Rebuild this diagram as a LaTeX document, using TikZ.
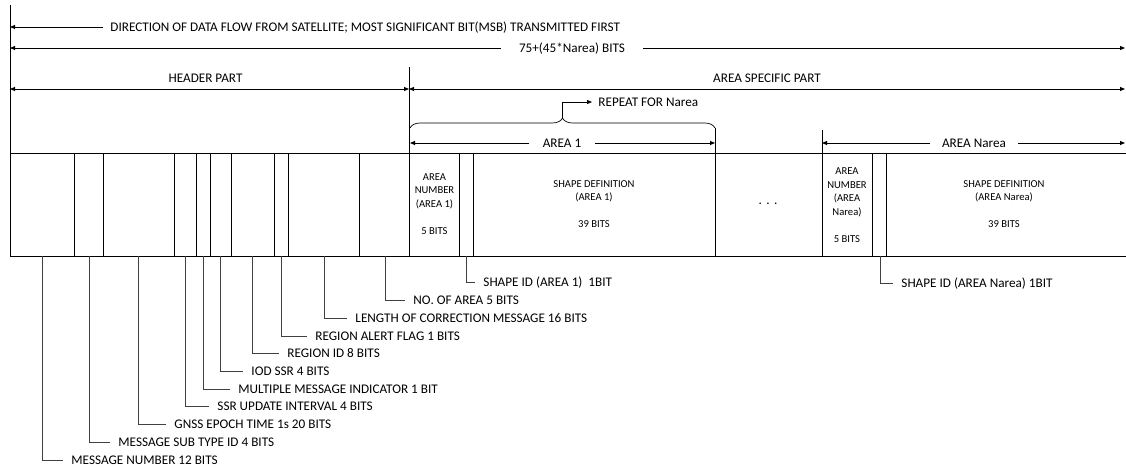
\documentclass[tikz,border=0pt]{standalone}
\usepackage{fontspec}
\setmainfont{Carlito}
\usetikzlibrary{arrows.meta,decorations.pathreplacing}

\begin{document}
\begin{tikzpicture}[x=1pt,y=-1pt,line width=0.9pt,>={Triangle[length=5pt,width=4pt]},
    lbl/.style={font=\fontsize{13.2}{15}\selectfont,text height=8.4pt,text depth=0pt,inner ysep=1pt},
    gaplbl/.style={lbl,inner xsep=#1},
    fld/.style={font=\fontsize{10.6}{13.5}\selectfont,align=center,inner sep=0pt},
    lead/.style={draw=black!75,line width=0.9pt},
    leadlbl/.style={lbl,anchor=west,inner xsep=8pt}]
      \useasboundingbox (0,0) rectangle (1126,468);

      % top arrows
      \coordinate (TOPL) at (10,5);
      \coordinate (DIRL) at (10,27);
      \node[gaplbl=7pt,anchor=west] (DIR) at (103,27) {DIRECTION OF DATA FLOW FROM SATELLITE; MOST SIGNIFICANT BIT(MSB) TRANSMITTED FIRST};
      \draw[->] (DIR.west) to (DIRL);

      \coordinate (TOTL) at (10,48);
      \coordinate (TOTR) at (1125,48);
      \node[gaplbl=18pt] (TOT) at (572,48) {75+(45*Narea) BITS};
      \draw[->] (TOT.west) to (TOTL);
      \draw[->] (TOT.east) to (TOTR);

      \coordinate (HDL) at (10,89);
      \coordinate (HDR) at (409,89);
      \coordinate (ASR) at (1125,89);
      \draw[<->] (HDL) to node[lbl,pos=0.49,above=5pt]{HEADER PART}(HDR);
      \draw[<->] (HDR) to node[lbl,above=5pt]{AREA SPECIFIC PART}(ASR);

      % repeat brace
      \coordinate (BRL) at (410,128);
      \coordinate (BRR) at (715,128);
      \coordinate (BRT) at (562,118);
      \draw[line width=0.7pt,decorate,decoration={brace,amplitude=10pt}] (BRL) to (BRR);
      \node[gaplbl=6pt,anchor=west] (RPT) at (592,102) {REPEAT FOR Narea};
      \draw[->,line width=0.7pt] (BRT) |- (RPT.west);

      % area arrows
      \coordinate (A1L) at (410,143);
      \coordinate (A1R) at (715,143);
      \node[gaplbl=13pt] (A1) at (562,143) {AREA 1};
      \draw[->] (A1.west) to (A1L);
      \draw[->] (A1.east) to (A1R);

      \coordinate (ANL) at (822,143);
      \coordinate (ANR) at (1125,143);
      \node[gaplbl=12pt] (AN) at (974,143) {AREA Narea};
      \draw[->] (AN.west) to (ANL);
      \draw[->] (AN.east) to (ANR);

      % message box
      \draw (TOPL) to (10,256);
      \draw (10,153) to (1126,153);
      \draw (10,256) to (1126,256);
      \draw (409,67) to (409,256);
      \draw (715,128) to (715,256);
      \draw (822,130) to (822,256);
      \foreach \x in {74,103,174,196,210,231,274,288,359,459,473,872,886}
        \draw (\x,153) to (\x,256);

      \node[fld] (AN1) at (434.5,204) {AREA\\NUMBER\\(AREA 1)\\[13.5pt]5 BITS};
      \node[fld] (SD1) at (594,204) {SHAPE DEFINITION\\(AREA 1)\\[13.5pt]39 BITS};
      \node[fld] (DOTS) at (768,204) {\textbf{.\hspace{5pt}.\hspace{5pt}.}};
      \node[fld] (ANN) at (847,205) {AREA\\NUMBER\\(AREA\\Narea)\\[13.5pt]5 BITS};
      \node[fld] (SDN) at (1004,204) {SHAPE DEFINITION\\(AREA Narea)\\[13.5pt]39 BITS};

      % field descriptions
      \coordinate (MN) at (42,256);
      \coordinate (MST) at (89,256);
      \coordinate (GET) at (138,256);
      \coordinate (SUI) at (185,256);
      \coordinate (MMI) at (203,256);
      \coordinate (IOD) at (220,256);
      \coordinate (RID) at (252,256);
      \coordinate (RAF) at (281,256);
      \coordinate (LCM) at (324,256);
      \coordinate (NOA) at (385,256);
      \coordinate (SID1) at (466,256);
      \coordinate (SIDN) at (880,256);

      \node[leadlbl] (MNL) at (63,460) {MESSAGE NUMBER 12 BITS};
      \node[leadlbl] (MSTL) at (110,442) {MESSAGE SUB TYPE ID 4 BITS};
      \node[leadlbl] (GETL) at (166,424) {GNSS EPOCH TIME 1s 20 BITS};
      \node[leadlbl] (SUIL) at (209,406) {SSR UPDATE INTERVAL 4 BITS};
      \node[leadlbl] (MMIL) at (230,389) {MULTIPLE MESSAGE INDICATOR 1 BIT};
      \node[leadlbl] (IODL) at (243,371) {IOD SSR 4 BITS};
      \node[leadlbl] (RIDL) at (279,353) {REGION ID 8 BITS};
      \node[leadlbl] (RAFL) at (307,336) {REGION ALERT FLAG 1 BITS};
      \node[leadlbl] (LCML) at (347,318) {LENGTH OF CORRECTION MESSAGE 16 BITS};
      \node[leadlbl] (NOAL) at (405,300) {NO. OF AREA 5 BITS};
      \node[leadlbl] (SID1L) at (475,282) {SHAPE ID (AREA 1)\ \ 1BIT};
      \node[leadlbl] (SIDNL) at (893,283) {SHAPE ID (AREA Narea) 1BIT};

      \draw[lead] (MN) |- (MNL.west);
      \draw[lead] (MST) |- (MSTL.west);
      \draw[lead] (GET) |- (GETL.west);
      \draw[lead] (SUI) |- (SUIL.west);
      \draw[lead] (MMI) |- (MMIL.west);
      \draw[lead] (IOD) |- (IODL.west);
      \draw[lead] (RID) |- (RIDL.west);
      \draw[lead] (RAF) |- (RAFL.west);
      \draw[lead] (LCM) |- (LCML.west);
      \draw[lead] (NOA) |- (NOAL.west);
      \draw[lead] (SID1) |- (SID1L.west);
      \draw[lead] (SIDN) |- (SIDNL.west);
    \end{tikzpicture}
\end{document}
